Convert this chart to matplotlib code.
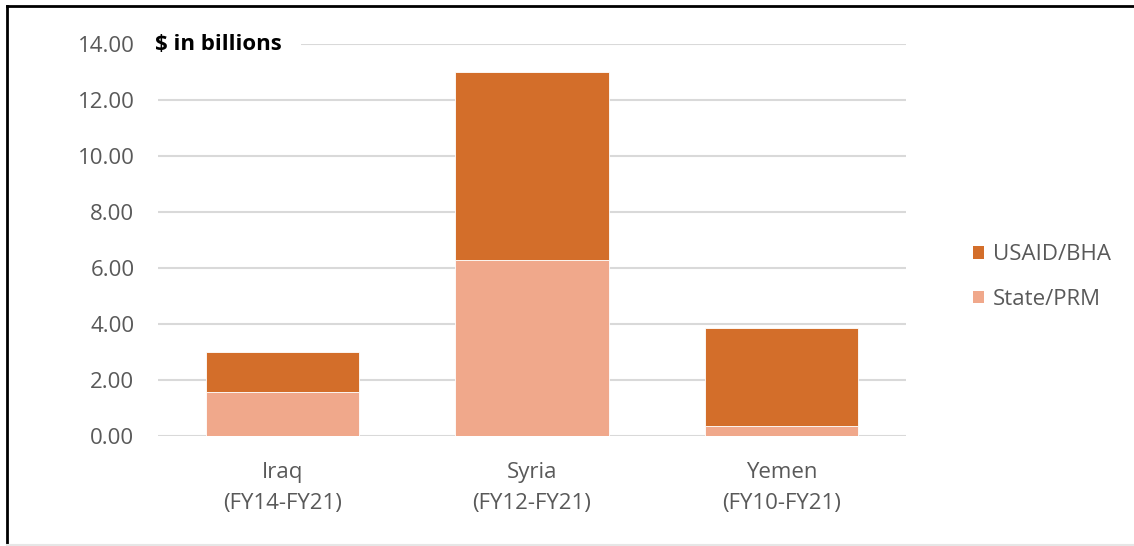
import matplotlib
matplotlib.use("Agg")
import matplotlib.pyplot as plt
from matplotlib.patches import Patch
from matplotlib.lines import Line2D

categories = ["Iraq\n(FY14-FY21)", "Syria\n(FY12-FY21)", "Yemen\n(FY10-FY21)"]
state_prm = [1.57, 6.29, 0.36]
usaid_bha = [1.43, 6.71, 3.50]
yticks = [0, 2, 4, 6, 8, 10, 12, 14]

COL_BHA = "#D36E2A"
COL_PRM = "#F0A88B"
GRID = "#D9D9D9"
TXT = "#595959"
FS = 16

plt.rcParams["font.family"] = ["Open Sans", "DejaVu Sans"]

W, H = 1134, 546
fig = plt.figure(figsize=(W / 100, H / 100), dpi=100)
ax = fig.add_axes([158 / W, 1 - 436 / H, (906 - 158) / W, 392 / H])

x = range(len(categories))
ax.bar(x, state_prm, width=0.615, color=COL_PRM, edgecolor="white", linewidth=0.6,
       label="State/PRM", zorder=3)
ax.bar(x, usaid_bha, width=0.615, bottom=state_prm, color=COL_BHA, edgecolor="white",
       linewidth=0.6, label="USAID/BHA", zorder=3)

ax.set_xlim(-0.5, 2.5)
ax.set_ylim(0, 14)
ax.set_yticks(yticks)
ax.set_yticklabels([f"{v:.2f}" for v in yticks], color=TXT, fontsize=FS)
ax.set_xticks(list(x))
ax.set_xticklabels(categories, color=TXT, fontsize=FS, linespacing=1.62)
ax.tick_params(axis="both", length=0)
ax.tick_params(axis="y", pad=17)
ax.tick_params(axis="x", pad=19)
ax.grid(axis="y", color=GRID, linewidth=1.5, zorder=0)
ax.set_axisbelow(True)
for s in ax.spines.values():
    s.set_visible(False)

# title sits over the top gridline with a white backing
fig.text(155 / W, 1 - 44 / H, "$ in billions", fontsize=FS, fontweight="bold",
         color="black", va="center", ha="left",
         bbox=dict(facecolor="white", edgecolor="none", pad=14))

handles = [Patch(facecolor=COL_BHA, label="USAID/BHA"),
           Patch(facecolor=COL_PRM, label="State/PRM")]
fig.legend(handles=handles, loc="center left", bbox_to_anchor=(953 / W, 1 - 277 / H),
           frameon=False, fontsize=FS, labelcolor=TXT, handlelength=0.48,
           handleheight=0.48, handletextpad=0.4, labelspacing=1.05)

# outer frame: dark top and left, faint bottom
fig.add_artist(Line2D([7 / W, 1], [1 - 6 / H, 1 - 6 / H], color="black", lw=2,
                      transform=fig.transFigure))
fig.add_artist(Line2D([7 / W, 7 / W], [0, 1 - 6 / H], color="black", lw=2,
                      transform=fig.transFigure))
fig.add_artist(Line2D([7 / W, 1], [1 / H, 1 / H], color="#E6E6E6", lw=1.5,
                      transform=fig.transFigure))

fig.savefig("out.png", dpi=100, facecolor="white")
